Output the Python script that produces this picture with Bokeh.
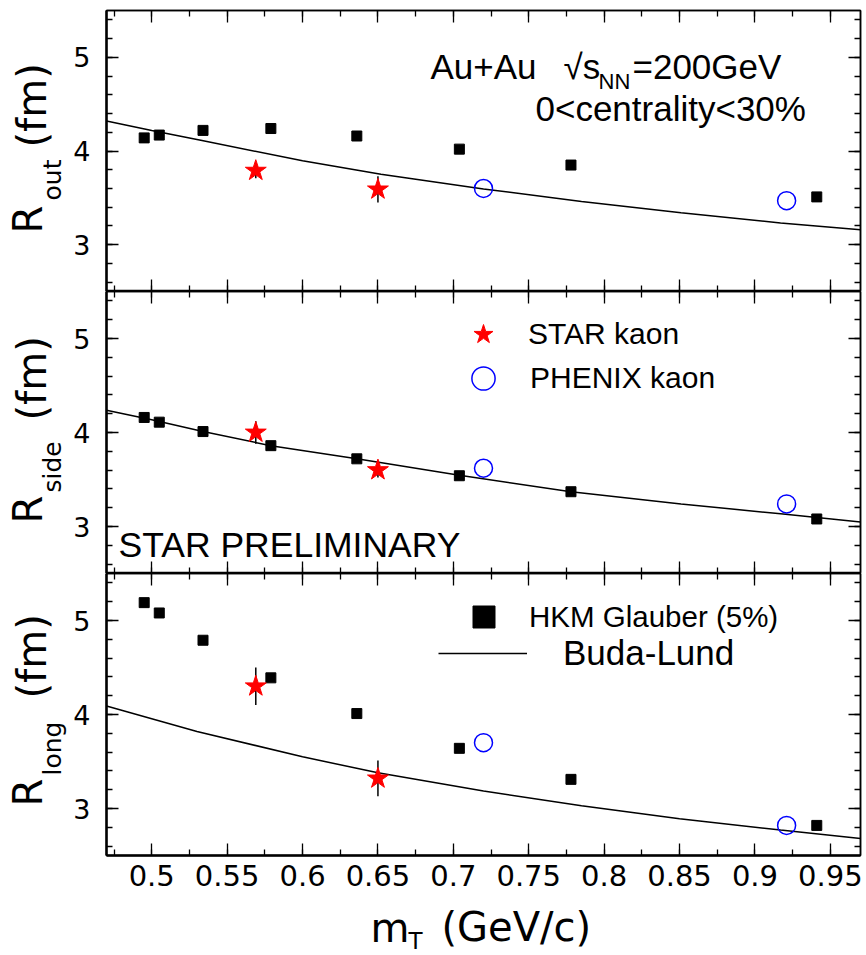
import numpy as np
from bokeh.plotting import figure
from bokeh.models import (Range1d, LinearAxis, SingleIntervalTicker, NumeralTickFormatter,
                          Label, Legend, LegendItem)
from bokeh.layouts import column, row
from bokeh.embed import file_html
from bokeh.resources import INLINE

# ---------------- data ----------------
x_start, x_end = 0.47, 0.97
y_start, y_end = 2.5, 5.5

hkm_mt = [0.495, 0.505, 0.534, 0.579, 0.636, 0.704, 0.778, 0.941]
hkm_rout = [4.14, 4.17, 4.22, 4.24, 4.16, 4.02, 3.85, 3.51]
hkm_rside = [4.16, 4.11, 4.01, 3.86, 3.72, 3.54, 3.37, 3.08]
hkm_rlong = [5.19, 5.08, 4.79, 4.39, 4.01, 3.64, 3.31, 2.82]

star_mt = [0.569, 0.650]
star_rout = [3.79, 3.59]
star_rout_err = [0.08, 0.14]
star_rside = [4.00, 3.60]
star_rside_err = [0.12, 0.08]
star_rlong = [4.30, 3.32]
star_rlong_err = [0.20, 0.19]

phenix_mt = [0.720, 0.921]
phenix_rout = [3.60, 3.47]
phenix_rside = [3.62, 3.24]
phenix_rlong = [3.70, 2.82]

bl_mt_out = [0.47, 0.50, 0.5325, 0.60, 0.652, 0.72, 0.785, 0.851, 0.917, 0.97]
bl_rout = [4.32, 4.22, 4.115, 3.895, 3.752, 3.595, 3.46, 3.34, 3.232, 3.16]
bl_mt_side = [0.47, 0.50, 0.534, 0.579, 0.636, 0.704, 0.778, 0.851, 0.917, 0.97]
bl_rside = [4.236, 4.135, 4.01, 3.86, 3.72, 3.545, 3.37, 3.24, 3.135, 3.048]
bl_mt_long = [0.47, 0.53, 0.60, 0.65, 0.72, 0.785, 0.85, 0.917, 0.97]
bl_rlong = [4.09, 3.82, 3.55, 3.38, 3.185, 3.03, 2.89, 2.77, 2.68]

x_tick_step = 0.05
y_tick_step = 1

# ---------------- layout constants (page pixels) ----------------
W = 866
TW = 70                  # width of the y-title strip
FL, FR = 106, 6          # frame left / right margin on the page
tops = [10, 291, 573]
bottoms = [291, 573, 855]
XT_TOP = 900             # top of the x-title strip
H = 955

TICK_FONT = "DejaVu Sans"
TITLE_FONT = "DejaVu Sans"
ANN_FONT = "Liberation Sans"
BASE_K = 0.39            # label anchor -> alphabetic baseline shift (fraction of font size)

x_range = Range1d(x_start, x_end)


def make_axis(ticker_interval, minors, show_labels, fmt=None, size="27px", standoff=16, lw=1.5):
    ax = LinearAxis(ticker=SingleIntervalTicker(interval=ticker_interval, num_minor_ticks=minors))
    ax.major_tick_in = 12
    ax.major_tick_out = 0
    ax.minor_tick_in = 6
    ax.minor_tick_out = 0
    ax.major_tick_line_width = 1.3
    ax.minor_tick_line_width = 1.3
    ax.axis_line_width = lw
    ax.axis_line_color = "black"
    ax.major_tick_line_color = "black"
    ax.minor_tick_line_color = "black"
    if show_labels:
        ax.major_label_text_font = TICK_FONT
        ax.major_label_text_font_size = size
        ax.major_label_text_color = "black"
        ax.major_label_standoff = standoff
        if fmt is not None:
            ax.formatter = fmt
    else:
        ax.major_label_text_font_size = "0px"
        ax.major_label_standoff = 0
    return ax


def make_fig(height, border_top, border_bottom, x_labels):
    p = figure(width=W - TW, height=height, x_range=x_range, y_range=Range1d(y_start, y_end),
               output_backend="svg", toolbar_location=None,
               x_axis_location=None, y_axis_location=None,
               min_border_left=FL - TW, min_border_right=FR,
               min_border_top=border_top, min_border_bottom=border_bottom)
    p.xgrid.visible = False
    p.ygrid.visible = False
    p.outline_line_color = "black"
    p.outline_line_width = 1.5
    p.background_fill_color = "white"
    p.border_fill_color = "white"
    p.add_layout(make_axis(y_tick_step, 5, True, size="27px", standoff=16, lw=2.5), "left")
    p.add_layout(make_axis(y_tick_step, 5, False), "right")
    p.add_layout(make_axis(x_tick_step, 2, False), "above")
    if x_labels:
        p.add_layout(make_axis(x_tick_step, 2, True, fmt=NumeralTickFormatter(format="0.0[0]"),
                               size="29px", standoff=9, lw=2.5), "below")
    else:
        p.add_layout(make_axis(x_tick_step, 2, False), "below")
    return p


def strip(width, height):
    s = figure(width=width, height=height, x_range=Range1d(0, 1), y_range=Range1d(0, 1),
               output_backend="svg", toolbar_location=None,
               x_axis_location=None, y_axis_location=None, min_border=0)
    s.xgrid.visible = False
    s.ygrid.visible = False
    s.outline_line_color = None
    s.background_fill_color = "white"
    s.border_fill_color = "white"
    return s


def lab(p, left, bottom, text, cx, cy, size, font=ANN_FONT, angle=0):
    """cx, cy: page pixel of the text start on its alphabetic baseline."""
    if angle == 0:
        ax, ay = cx, cy - BASE_K * size
    else:
        ax, ay = cx - BASE_K * size, cy
    p.add_layout(Label(x=ax - left, y=bottom - ay, x_units="screen", y_units="screen",
                       text=text, text_font=font, text_font_size=f"{size}px",
                       text_baseline="alphabetic", text_align="left",
                       angle=angle, angle_units="deg", text_color="black"))


def panel(p, bl_x, bl_y, hkm_y, st_y, st_err, ph_y):
    line_r = p.line(bl_x, bl_y, line_color="black", line_width=1.5)
    sq_r = p.scatter(hkm_mt, hkm_y, marker="square", size=10, fill_color="black", line_color="black")
    lo = [v - e for v, e in zip(st_y, st_err)]
    hi = [v + e for v, e in zip(st_y, st_err)]
    p.segment(star_mt, lo, star_mt, hi, line_color="black", line_width=1.5)
    st_r = p.scatter(star_mt, st_y, marker="star", size=22, fill_color="red", line_color="red")
    ph_r = p.scatter(phenix_mt, ph_y, marker="circle", size=18, fill_color=None,
                     line_color="blue", line_width=1.5)
    return line_r, sq_r, st_r, ph_r


def leg(p, renderer, text, loc, gw, gh, standoff, size):
    L = Legend(items=[LegendItem(label=text, renderers=[renderer])], location=loc,
               glyph_width=gw, glyph_height=gh, label_standoff=standoff,
               padding=0, margin=0, spacing=0, background_fill_alpha=0,
               border_line_color=None, label_text_font=ANN_FONT,
               label_text_font_size=f"{size}px", label_text_color="black")
    p.add_layout(L)


# ---------------- top panel: R_out ----------------
p1 = make_fig(291, 10, 0, False)
panel(p1, bl_mt_out, bl_rout, hkm_rout, star_rout, star_rout_err, phenix_rout)
lab(p1, FL, bottoms[0], "Au+Au", 430, 80, 35)
lab(p1, FL, bottoms[0], "\u221as", 563, 80, 35)
lab(p1, FL, bottoms[0], "NN", 598, 90, 22)
lab(p1, FL, bottoms[0], "=200GeV", 632, 80, 35)
lab(p1, FL, bottoms[0], "0<centrality<30%", 535, 122, 35)
t1 = strip(TW, 291)
lab(t1, 0, bottoms[0], "R", 43, 233, 40, font=TITLE_FONT, angle=90)
lab(t1, 0, bottoms[0], "out", 62, 200, 25, font=TITLE_FONT, angle=90)
lab(t1, 0, bottoms[0], "(fm)", 47, 147, 40, font=TITLE_FONT, angle=90)

# ---------------- middle panel: R_side ----------------
p2 = make_fig(282, 0, 0, False)
_, _, st2, ph2 = panel(p2, bl_mt_side, bl_rside, hkm_rside, star_rside, star_rside_err, phenix_rside)
lab(p2, FL, bottoms[1], "STAR PRELIMINARY", 118, 558, 35.5)
leg(p2, st2, "STAR kaon", (483 - 25 - FL, bottoms[1] - 334 - 25), 50, 50, 20, 30)
leg(p2, ph2, "PHENIX kaon", (483 - 29 - FL, bottoms[1] - 378 - 29), 58, 58, 18, 30)
t2 = strip(TW, 282)
lab(t2, 0, bottoms[1], "R", 43, 523, 40, font=TITLE_FONT, angle=90)
lab(t2, 0, bottoms[1], "side", 62, 492, 25, font=TITLE_FONT, angle=90)
lab(t2, 0, bottoms[1], "(fm)", 47, 420, 40, font=TITLE_FONT, angle=90)

# ---------------- bottom panel: R_long ----------------
p3 = make_fig(XT_TOP - tops[2], 0, XT_TOP - bottoms[2], True)
ln3, sq3, _, _ = panel(p3, bl_mt_long, bl_rlong, hkm_rlong, star_rlong, star_rlong_err, phenix_rlong)
leg(p3, sq3, "HKM Glauber (5%)", (483 - 27 - FL, bottoms[2] - 617 - 27), 55, 55, 18, 29.5)
leg(p3, ln3, "Buda-Lund", (438 - FL, bottoms[2] - 658 - 15), 89, 30, 36, 35)
t3 = strip(TW, XT_TOP - tops[2])
lab(t3, 0, bottoms[2], "R", 43, 806, 40, font=TITLE_FONT, angle=90)
lab(t3, 0, bottoms[2], "long", 62, 775, 25, font=TITLE_FONT, angle=90)
lab(t3, 0, bottoms[2], "(fm)", 47, 698, 40, font=TITLE_FONT, angle=90)

# ---------------- x title strip ----------------
xt = strip(W, H - XT_TOP)
lab(xt, 0, H, "m", 370, 943, 40, font=TITLE_FONT)
lab(xt, 0, H, "T", 408, 949, 23, font=TITLE_FONT)
lab(xt, 0, H, "(GeV/c)", 441, 942, 40, font=TITLE_FONT)

layout = column(row(t1, p1, spacing=0), row(t2, p2, spacing=0), row(t3, p3, spacing=0), xt,
                spacing=0)
open("out.html", "w").write(file_html(layout, INLINE))
